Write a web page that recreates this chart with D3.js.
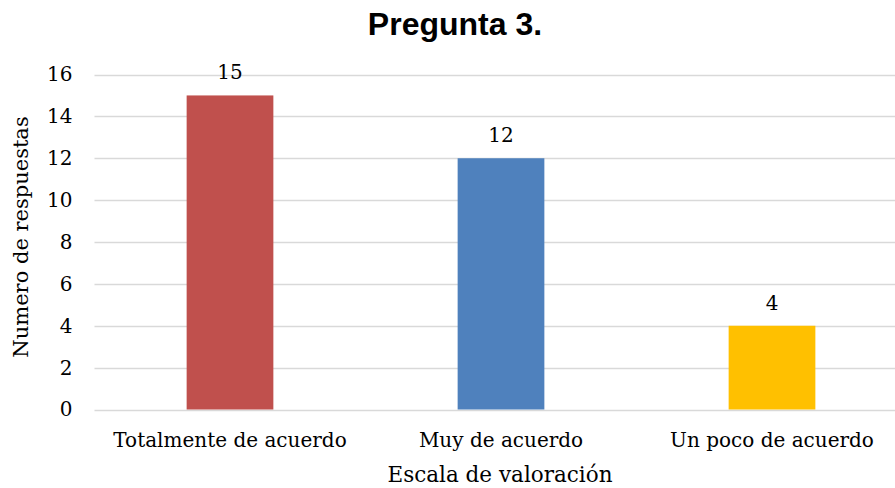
<!DOCTYPE html>
<html><head><meta charset="utf-8">
<script src="https://cdn.jsdelivr.net/npm/d3@7"></script>
<style>body{margin:0;background:#fff}svg{display:block}</style>
</head><body>
<svg id="c" width="895" height="488"></svg>
<script>
const categories = ["Totalmente de acuerdo", "Muy de acuerdo", "Un poco de acuerdo"];
const values = [15, 12, 4];
const colors = ["#C0504D", "#4F81BD", "#FFC000"];
const yTicks = [0, 2, 4, 6, 8, 10, 12, 14, 16];
const title = "Pregunta 3.";
const xTitle = "Escala de valoración";
const yTitle = "Numero de respuestas";

const svg = d3.select("#c");
const serif = "'DejaVu Serif', serif";
const plotLeft = 94.5, plotBottom = 409.5, plotTop = 74.5;
const x = d3.scaleBand().domain(categories).range([plotLeft, plotLeft + 813]).paddingInner(0.68).paddingOuter(0.34);
const y = d3.scaleLinear().domain([0, 16]).range([plotBottom, plotTop]);

svg.append("g").selectAll("line").data(yTicks).join("line")
  .attr("x1", plotLeft).attr("x2", 895)
  .attr("y1", d => Math.round(y(d)) + 0.5).attr("y2", d => Math.round(y(d)) + 0.5)
  .attr("stroke", "#d9d9d9").attr("stroke-width", 1.5);

const yAxis = svg.append("g").attr("transform", `translate(${plotLeft},0)`)
  .call(d3.axisLeft(y).tickValues(yTicks).tickSize(0).tickPadding(22));
yAxis.select(".domain").remove();
yAxis.selectAll("text").attr("font-family", serif).attr("font-size", 20).attr("fill", "#000");

svg.append("g").selectAll("rect").data(values).join("rect")
  .attr("x", (d, i) => x(categories[i])).attr("width", x.bandwidth())
  .attr("y", d => y(d)).attr("height", d => y(0) - y(d))
  .attr("fill", (d, i) => colors[i]);

svg.append("g").selectAll("text").data(values).join("text")
  .attr("x", (d, i) => x(categories[i]) + x.bandwidth() / 2)
  .attr("y", d => y(d) - 16)
  .attr("text-anchor", "middle").attr("font-family", serif).attr("font-size", 20).attr("fill", "#000")
  .text(d => d);

const xAxis = svg.append("g").attr("transform", `translate(0,${plotBottom})`)
  .call(d3.axisBottom(x).tickSize(0).tickPadding(23));
xAxis.select(".domain").remove();
xAxis.selectAll("text").attr("font-family", serif).attr("font-size", 20).attr("fill", "#000");

svg.append("text").attr("x", 455).attr("y", 35).attr("text-anchor", "middle")
  .attr("font-family", "'Liberation Sans', Arial, sans-serif").attr("font-weight", "bold").attr("font-size", 32)
  .text(title);

svg.append("text").attr("x", 500).attr("y", 482).attr("text-anchor", "middle")
  .attr("font-family", serif).attr("font-size", 21.5).text(xTitle);

svg.append("text").attr("transform", `translate(28,237) rotate(-90)`).attr("text-anchor", "middle")
  .attr("font-family", serif).attr("font-size", 21).text(yTitle);
</script>
</body></html>
